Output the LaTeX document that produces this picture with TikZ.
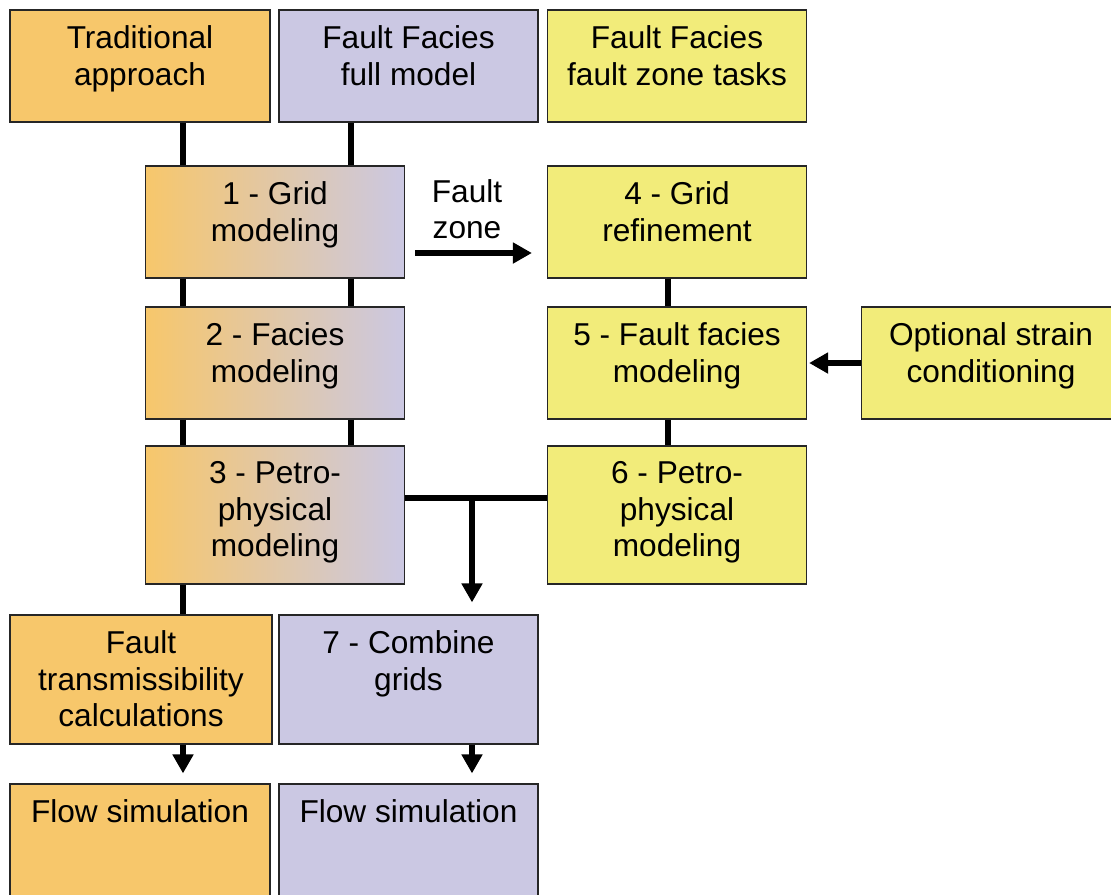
\documentclass[tikz,border=0pt]{standalone}
\usepackage{fontspec}
\setmainfont{Liberation Sans}
\usepackage{xcolor}
\usetikzlibrary{positioning, calc, arrows.meta}

\definecolor{tradorange}{HTML}{F7C76B}
\definecolor{fulllilac}{HTML}{CBC8E3}
\definecolor{zoneyellow}{HTML}{F2EC7A}

\begin{document}
\begin{tikzpicture}[x=0.02cm,y=-0.02cm,
    box/.style={draw=black!85,line width=0.7pt,inner sep=0pt,minimum width=5.18cm,minimum height=2.24cm},
    txt/.style={anchor=north,align=center,inner sep=0pt,yshift=-0.32cm,font=\fontsize{18}{20.8}\selectfont},
    link/.style={line width=3.4pt},
    arrow/.style={link,-{Triangle[length=0.38cm,width=0.4cm]}}]
    \clip (0,0) rectangle (1111,894);

    % Column heads
    \node[box,fill=tradorange,minimum width=5.2cm] (trad) at (140,66) [label={[txt]north:{Traditional\\approach}}] {};
    \node[box,fill=fulllilac] (full) at (408.5,66) [label={[txt]north:{Fault Facies\\full model}}] {};
    \node[box,fill=zoneyellow] (tasks) at (677,66) [label={[txt]north:{Fault Facies\\fault zone tasks}}] {};

    % Shared steps
    \node[box,left color=tradorange,right color=fulllilac] (grid) at (275,222) [label={[txt]north:{1 - Grid\\modeling}}] {};
    \node[box,left color=tradorange,right color=fulllilac] (facies) at (275,363) [label={[txt]north:{2 - Facies\\modeling}}] {};
    \node[box,left color=tradorange,right color=fulllilac,minimum height=2.76cm] (petro) at (275,515) [label={[txt]north:{3 - Petro-\\physical\\modeling}}] {};

    % Fault zone steps
    \node[box,fill=zoneyellow] (refine) at (677,222) [label={[txt]north:{4 - Grid\\refinement}}] {};
    \node[box,fill=zoneyellow] (ffacies) at (677,363) [label={[txt]north:{5 - Fault facies\\modeling}}] {};
    \node[box,fill=zoneyellow] (strain) at (991,363) [label={[txt]north:{Optional strain\\conditioning}}] {};
    \node[box,fill=zoneyellow,minimum height=2.76cm] (petrozone) at (677,515) [label={[txt]north:{6 - Petro-\\physical\\modeling}}] {};

    % Bottom
    \node[box,fill=tradorange,minimum width=5.24cm,minimum height=2.58cm] (trans) at (141,679.5) [label={[txt]north:{Fault\\transmissibility\\calculations}}] {};
    \node[box,fill=fulllilac,minimum height=2.58cm] (combine) at (408.5,679.5) [label={[txt]north:{7 - Combine\\grids}}] {};
    \node[box,fill=tradorange,minimum width=5.2cm] (flowtrad) at (140,840) [label={[txt]north:{Flow simulation}}] {};
    \node[box,fill=fulllilac] (flowfull) at (408.5,840) [label={[txt]north:{Flow simulation}}] {};

    \node[align=center,inner sep=0pt,font=\fontsize{18}{20.8}\selectfont] (fz) at (467,209) {Fault\\zone};

    % Connectors
    \coordinate (lt) at (183,0);
    \coordinate (lf) at (351,0);
    \coordinate (lz) at (668,0);
    \coordinate (tee) at (472,498);

    \draw[link] (trad.south -| lt) -- (grid.north -| lt);
    \draw[link] (grid.south -| lt) -- (facies.north -| lt);
    \draw[link] (facies.south -| lt) -- (petro.north -| lt);
    \draw[link] (petro.south -| lt) -- (trans.north -| lt);
    \draw[link] (full.south -| lf) -- (grid.north -| lf);
    \draw[link] (grid.south -| lf) -- (facies.north -| lf);
    \draw[link] (facies.south -| lf) -- (petro.north -| lf);
    \draw[link] (refine.south -| lz) -- (ffacies.north -| lz);
    \draw[link] (ffacies.south -| lz) -- (petrozone.north -| lz);

    \draw[arrow] ($(grid.east)+(10,31)$) -- ($(refine.west)+(-15,31)$);
    \draw[arrow] (strain.west) -- ($(ffacies.east)+(2,0)$);
    \draw[link] (petro.east |- tee) -- (petrozone.west |- tee);
    \draw[arrow] (tee) -- ($(combine.north -| tee)+(0,-12)$);
    \draw[arrow] (trans.south -| lt) -- ($(flowtrad.north -| lt)+(0,-10)$);
    \draw[arrow] (combine.south -| tee) -- ($(flowfull.north -| tee)+(0,-10)$);
\end{tikzpicture}
\end{document}
